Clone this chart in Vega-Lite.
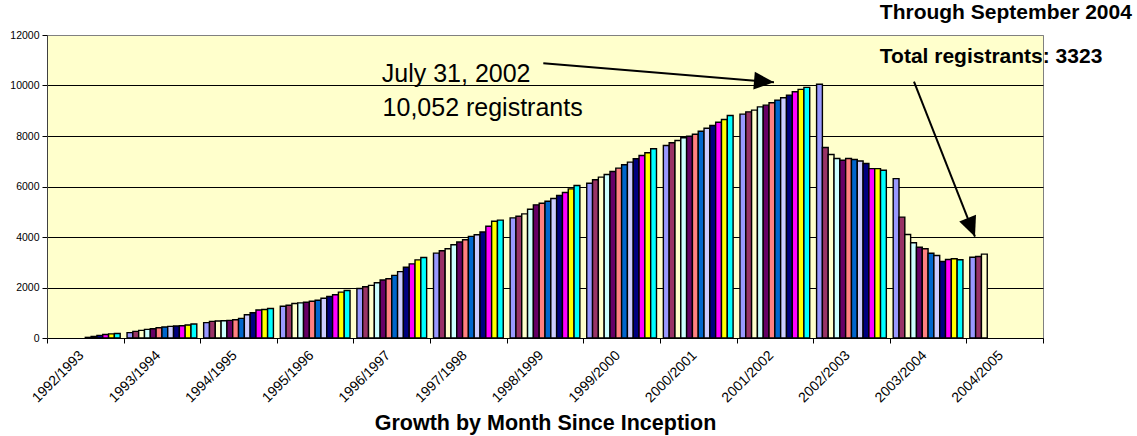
{
  "$schema": "https://vega.github.io/schema/vega-lite/v6.json",
  "width": 996,
  "height": 303,
  "autosize": {"type": "none"},
  "padding": {"left": 47, "top": 35, "right": 94, "bottom": 98},
  "background": "white",
  "config": {
    "font": "Liberation Sans",
    "view": {"fill": "#FFFFCC", "stroke": "#808080", "strokeWidth": 1}
  },
  "datasets": {
    "bars": [
      {"fy": "1992/1993", "m": "Jan", "v": 25},
      {"fy": "1992/1993", "m": "Feb", "v": 60},
      {"fy": "1992/1993", "m": "Mar", "v": 105},
      {"fy": "1992/1993", "m": "Apr", "v": 140},
      {"fy": "1992/1993", "m": "May", "v": 165},
      {"fy": "1992/1993", "m": "Jun", "v": 180},
      {"fy": "1993/1994", "m": "Jul", "v": 211},
      {"fy": "1993/1994", "m": "Aug", "v": 263},
      {"fy": "1993/1994", "m": "Sep", "v": 303},
      {"fy": "1993/1994", "m": "Oct", "v": 342},
      {"fy": "1993/1994", "m": "Nov", "v": 369},
      {"fy": "1993/1994", "m": "Dec", "v": 408},
      {"fy": "1993/1994", "m": "Jan", "v": 435},
      {"fy": "1993/1994", "m": "Feb", "v": 461},
      {"fy": "1993/1994", "m": "Mar", "v": 474},
      {"fy": "1993/1994", "m": "Apr", "v": 487},
      {"fy": "1993/1994", "m": "May", "v": 514},
      {"fy": "1993/1994", "m": "Jun", "v": 553},
      {"fy": "1994/1995", "m": "Jul", "v": 607},
      {"fy": "1994/1995", "m": "Aug", "v": 658},
      {"fy": "1994/1995", "m": "Sep", "v": 672},
      {"fy": "1994/1995", "m": "Oct", "v": 685},
      {"fy": "1994/1995", "m": "Nov", "v": 698},
      {"fy": "1994/1995", "m": "Dec", "v": 724},
      {"fy": "1994/1995", "m": "Jan", "v": 777},
      {"fy": "1994/1995", "m": "Feb", "v": 922},
      {"fy": "1994/1995", "m": "Mar", "v": 1000},
      {"fy": "1994/1995", "m": "Apr", "v": 1106},
      {"fy": "1994/1995", "m": "May", "v": 1130},
      {"fy": "1994/1995", "m": "Jun", "v": 1170},
      {"fy": "1995/1996", "m": "Jul", "v": 1257},
      {"fy": "1995/1996", "m": "Aug", "v": 1297},
      {"fy": "1995/1996", "m": "Sep", "v": 1364},
      {"fy": "1995/1996", "m": "Oct", "v": 1390},
      {"fy": "1995/1996", "m": "Nov", "v": 1417},
      {"fy": "1995/1996", "m": "Dec", "v": 1457},
      {"fy": "1995/1996", "m": "Jan", "v": 1497},
      {"fy": "1995/1996", "m": "Feb", "v": 1577},
      {"fy": "1995/1996", "m": "Mar", "v": 1643},
      {"fy": "1995/1996", "m": "Apr", "v": 1710},
      {"fy": "1995/1996", "m": "May", "v": 1816},
      {"fy": "1995/1996", "m": "Jun", "v": 1883},
      {"fy": "1996/1997", "m": "Jul", "v": 1963},
      {"fy": "1996/1997", "m": "Aug", "v": 2030},
      {"fy": "1996/1997", "m": "Sep", "v": 2083},
      {"fy": "1996/1997", "m": "Oct", "v": 2190},
      {"fy": "1996/1997", "m": "Nov", "v": 2295},
      {"fy": "1996/1997", "m": "Dec", "v": 2348},
      {"fy": "1996/1997", "m": "Jan", "v": 2482},
      {"fy": "1996/1997", "m": "Feb", "v": 2628},
      {"fy": "1996/1997", "m": "Mar", "v": 2800},
      {"fy": "1996/1997", "m": "Apr", "v": 2934},
      {"fy": "1996/1997", "m": "May", "v": 3094},
      {"fy": "1996/1997", "m": "Jun", "v": 3187},
      {"fy": "1997/1998", "m": "Jul", "v": 3360},
      {"fy": "1997/1998", "m": "Aug", "v": 3453},
      {"fy": "1997/1998", "m": "Sep", "v": 3533},
      {"fy": "1997/1998", "m": "Oct", "v": 3693},
      {"fy": "1997/1998", "m": "Nov", "v": 3800},
      {"fy": "1997/1998", "m": "Dec", "v": 3892},
      {"fy": "1997/1998", "m": "Jan", "v": 4025},
      {"fy": "1997/1998", "m": "Feb", "v": 4092},
      {"fy": "1997/1998", "m": "Mar", "v": 4200},
      {"fy": "1997/1998", "m": "Apr", "v": 4425},
      {"fy": "1997/1998", "m": "May", "v": 4625},
      {"fy": "1997/1998", "m": "Jun", "v": 4670},
      {"fy": "1998/1999", "m": "Jul", "v": 4757},
      {"fy": "1998/1999", "m": "Aug", "v": 4823},
      {"fy": "1998/1999", "m": "Sep", "v": 4916},
      {"fy": "1998/1999", "m": "Oct", "v": 5101},
      {"fy": "1998/1999", "m": "Nov", "v": 5273},
      {"fy": "1998/1999", "m": "Dec", "v": 5339},
      {"fy": "1998/1999", "m": "Jan", "v": 5418},
      {"fy": "1998/1999", "m": "Feb", "v": 5524},
      {"fy": "1998/1999", "m": "Mar", "v": 5643},
      {"fy": "1998/1999", "m": "Apr", "v": 5762},
      {"fy": "1998/1999", "m": "May", "v": 5907},
      {"fy": "1998/1999", "m": "Jun", "v": 6040},
      {"fy": "1999/2000", "m": "Jul", "v": 6131},
      {"fy": "1999/2000", "m": "Aug", "v": 6265},
      {"fy": "1999/2000", "m": "Sep", "v": 6370},
      {"fy": "1999/2000", "m": "Oct", "v": 6476},
      {"fy": "1999/2000", "m": "Nov", "v": 6595},
      {"fy": "1999/2000", "m": "Dec", "v": 6727},
      {"fy": "1999/2000", "m": "Jan", "v": 6859},
      {"fy": "1999/2000", "m": "Feb", "v": 6964},
      {"fy": "1999/2000", "m": "Mar", "v": 7097},
      {"fy": "1999/2000", "m": "Apr", "v": 7229},
      {"fy": "1999/2000", "m": "May", "v": 7335},
      {"fy": "1999/2000", "m": "Jun", "v": 7494},
      {"fy": "2000/2001", "m": "Jul", "v": 7623},
      {"fy": "2000/2001", "m": "Aug", "v": 7730},
      {"fy": "2000/2001", "m": "Sep", "v": 7822},
      {"fy": "2000/2001", "m": "Oct", "v": 7929},
      {"fy": "2000/2001", "m": "Nov", "v": 7992},
      {"fy": "2000/2001", "m": "Dec", "v": 8071},
      {"fy": "2000/2001", "m": "Jan", "v": 8190},
      {"fy": "2000/2001", "m": "Feb", "v": 8309},
      {"fy": "2000/2001", "m": "Mar", "v": 8416},
      {"fy": "2000/2001", "m": "Apr", "v": 8547},
      {"fy": "2000/2001", "m": "May", "v": 8654},
      {"fy": "2000/2001", "m": "Jun", "v": 8813},
      {"fy": "2001/2002", "m": "Jul", "v": 8865},
      {"fy": "2001/2002", "m": "Aug", "v": 8957},
      {"fy": "2001/2002", "m": "Sep", "v": 9024},
      {"fy": "2001/2002", "m": "Oct", "v": 9155},
      {"fy": "2001/2002", "m": "Nov", "v": 9222},
      {"fy": "2001/2002", "m": "Dec", "v": 9314},
      {"fy": "2001/2002", "m": "Jan", "v": 9421},
      {"fy": "2001/2002", "m": "Feb", "v": 9512},
      {"fy": "2001/2002", "m": "Mar", "v": 9619},
      {"fy": "2001/2002", "m": "Apr", "v": 9750},
      {"fy": "2001/2002", "m": "May", "v": 9846},
      {"fy": "2001/2002", "m": "Jun", "v": 9925},
      {"fy": "2002/2003", "m": "Jul", "v": 10052},
      {"fy": "2002/2003", "m": "Aug", "v": 7543},
      {"fy": "2002/2003", "m": "Sep", "v": 7265},
      {"fy": "2002/2003", "m": "Oct", "v": 7106},
      {"fy": "2002/2003", "m": "Nov", "v": 7039},
      {"fy": "2002/2003", "m": "Dec", "v": 7106},
      {"fy": "2002/2003", "m": "Jan", "v": 7067},
      {"fy": "2002/2003", "m": "Feb", "v": 7011},
      {"fy": "2002/2003", "m": "Mar", "v": 6908},
      {"fy": "2002/2003", "m": "Apr", "v": 6709},
      {"fy": "2002/2003", "m": "May", "v": 6709},
      {"fy": "2002/2003", "m": "Jun", "v": 6642},
      {"fy": "2003/2004", "m": "Jul", "v": 6312},
      {"fy": "2003/2004", "m": "Aug", "v": 4788},
      {"fy": "2003/2004", "m": "Sep", "v": 4101},
      {"fy": "2003/2004", "m": "Oct", "v": 3771},
      {"fy": "2003/2004", "m": "Nov", "v": 3597},
      {"fy": "2003/2004", "m": "Dec", "v": 3533},
      {"fy": "2003/2004", "m": "Jan", "v": 3359},
      {"fy": "2003/2004", "m": "Feb", "v": 3267},
      {"fy": "2003/2004", "m": "Mar", "v": 3029},
      {"fy": "2003/2004", "m": "Apr", "v": 3108},
      {"fy": "2003/2004", "m": "May", "v": 3136},
      {"fy": "2003/2004", "m": "Jun", "v": 3097},
      {"fy": "2004/2005", "m": "Jul", "v": 3200},
      {"fy": "2004/2005", "m": "Aug", "v": 3228},
      {"fy": "2004/2005", "m": "Sep", "v": 3323}
    ],
    "notes": [
      {"label": "July 31, 2002", "t": 4.37, "v": 10127},
      {"label": "10,052 registrants", "t": 4.38, "v": 8804}
    ],
    "corner": [
      {"label": "Through September 2004", "t": 10.87, "v": 12620},
      {"label": "Total registrants: 3323", "t": 10.87, "v": 10900}
    ],
    "arrow1": [{"t": 6.478, "v": 10879, "t2": 9.489, "v2": 10127}],
    "arrow2": [{"t": 11.316, "v": 10151, "t2": 12.112, "v2": 4012}]
  },
  "layer": [
    {
      "data": {"name": "bars"},
      "mark": {"type": "bar", "stroke": "#000000", "strokeWidth": 1.4},
      "encoding": {
        "x": {
          "field": "fy",
          "type": "nominal",
          "sort": null,
          "scale": {"paddingInner": 0, "paddingOuter": 0},
          "axis": {
            "title": "Growth by Month Since Inception",
            "titleFontSize": 21.5,
            "titleFontWeight": "bold",
            "titleColor": "#000000",
            "titleY": 91,
            "titleBaseline": "alphabetic",
            "labelAngle": -45,
            "labelAlign": "right",
            "labelBaseline": "middle",
            "labelFontSize": 14,
            "labelColor": "#000000",
            "labelPadding": 10,
            "labelOffset": -4,
            "tickBand": "extent",
            "tickSize": 5,
            "tickColor": "#000000",
            "domainColor": "#000000",
            "grid": false
          }
        },
        "xOffset": {
          "field": "m",
          "type": "nominal",
          "scale": {
            "domain": ["Jul", "Aug", "Sep", "Oct", "Nov", "Dec", "Jan", "Feb", "Mar", "Apr", "May", "Jun"],
            "paddingInner": 0,
            "paddingOuter": 0.59
          }
        },
        "y": {
          "field": "v",
          "type": "quantitative",
          "scale": {"domain": [0, 12000], "nice": false},
          "axis": {
            "title": null,
            "format": "d",
            "values": [0, 2000, 4000, 6000, 8000, 10000, 12000],
            "grid": true,
            "gridColor": {"condition": {"test": "datum.value >= 12000", "value": "#808080"}, "value": "#000000"},
            "gridWidth": 1,
            "tickSize": 5,
            "tickColor": "#000000",
            "domainColor": "#404040",
            "labelFontSize": 10.5,
            "labelColor": "#000000",
            "labelPadding": 3
          }
        },
        "color": {
          "field": "m",
          "type": "nominal",
          "scale": {
            "domain": ["Jul", "Aug", "Sep", "Oct", "Nov", "Dec", "Jan", "Feb", "Mar", "Apr", "May", "Jun"],
            "range": ["#9999FF", "#993366", "#FFFFCC", "#CCFFFF", "#660066", "#FF8080", "#0066CC", "#CCCCFF", "#000080", "#FF00FF", "#FFFF00", "#00FFFF"]
          },
          "legend": null
        }
      }
    },
    {
      "data": {"name": "notes"},
      "mark": {"type": "text", "align": "left", "baseline": "alphabetic", "fontSize": 25, "color": "#000000", "font": "Liberation Sans"},
      "encoding": {
        "x": {"field": "t", "type": "quantitative", "scale": {"domain": [0, 13], "nice": false, "zero": false}, "axis": null},
        "y": {"field": "v", "type": "quantitative", "scale": {"domain": [0, 12000], "nice": false}},
        "text": {"field": "label"}
      }
    },
    {
      "data": {"name": "corner"},
      "mark": {"type": "text", "align": "left", "baseline": "alphabetic", "fontSize": 21, "fontWeight": "bold", "color": "#000000", "font": "Liberation Sans"},
      "encoding": {
        "x": {"field": "t", "type": "quantitative", "scale": {"domain": [0, 13], "nice": false, "zero": false}, "axis": null},
        "y": {"field": "v", "type": "quantitative", "scale": {"domain": [0, 12000], "nice": false}},
        "text": {"field": "label"}
      }
    },
    {
      "data": {"name": "arrow1"},
      "mark": {"type": "rule", "color": "#000000", "strokeWidth": 2},
      "encoding": {
        "x": {"field": "t", "type": "quantitative", "scale": {"domain": [0, 13], "nice": false, "zero": false}, "axis": null},
        "x2": {"field": "t2"},
        "y": {"field": "v", "type": "quantitative", "scale": {"domain": [0, 12000], "nice": false}},
        "y2": {"field": "v2"}
      }
    },
    {
      "data": {"name": "arrow1"},
      "mark": {"type": "point", "shape": "M0,0L-2,-0.9L-2,0.9Z", "filled": true, "color": "#000000", "opacity": 1, "size": 400, "angle": 4.7},
      "encoding": {
        "x": {"field": "t2", "type": "quantitative", "scale": {"domain": [0, 13], "nice": false, "zero": false}, "axis": null},
        "y": {"field": "v2", "type": "quantitative", "scale": {"domain": [0, 12000], "nice": false}}
      }
    },
    {
      "data": {"name": "arrow2"},
      "mark": {"type": "rule", "color": "#000000", "strokeWidth": 2},
      "encoding": {
        "x": {"field": "t", "type": "quantitative", "scale": {"domain": [0, 13], "nice": false, "zero": false}, "axis": null},
        "x2": {"field": "t2"},
        "y": {"field": "v", "type": "quantitative", "scale": {"domain": [0, 12000], "nice": false}},
        "y2": {"field": "v2"}
      }
    },
    {
      "data": {"name": "arrow2"},
      "mark": {"type": "point", "shape": "M0,0L-2,-0.9L-2,0.9Z", "filled": true, "color": "#000000", "opacity": 1, "size": 400, "angle": 68.5},
      "encoding": {
        "x": {"field": "t2", "type": "quantitative", "scale": {"domain": [0, 13], "nice": false, "zero": false}, "axis": null},
        "y": {"field": "v2", "type": "quantitative", "scale": {"domain": [0, 12000], "nice": false}}
      }
    }
  ],
  "resolve": {"scale": {"x": "independent"}}
}
